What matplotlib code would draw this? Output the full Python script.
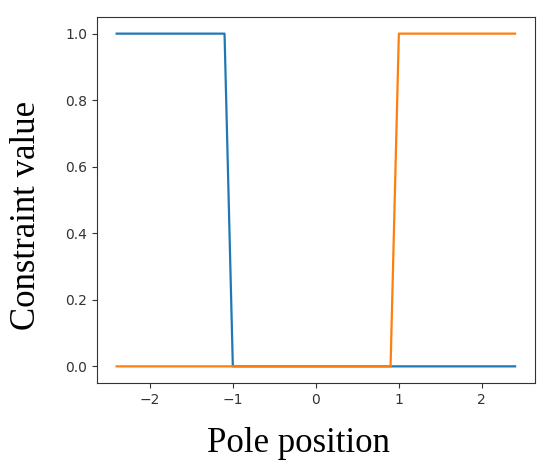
import matplotlib
matplotlib.use("Agg")
import matplotlib.pyplot as plt

# Pole position breakpoints and constraint values
pole_position = [-2.4, -1.1, -1.0, 0.9, 1.0, 2.4]
left_constraint = [1.0, 1.0, 0.0, 0.0, 0.0, 0.0]
right_constraint = [0.0, 0.0, 0.0, 0.0, 1.0, 1.0]
xticks = [-2, -1, 0, 1, 2]
yticks = [0.0, 0.2, 0.4, 0.6, 0.8, 1.0]

fig = plt.figure(figsize=(5.53, 4.70), dpi=100)
ax = fig.add_axes([96.7/553, 1 - 383/470, (535 - 96.7)/553, (383 - 17)/470])
ax.plot(pole_position, left_constraint, color="#1f77b4", lw=1.6)
ax.plot(pole_position, right_constraint, color="#ff7f0e", lw=1.6)
ax.set_xticks(xticks)
ax.set_yticks(yticks)
ax.set_yticklabels([f"{v:.1f}" for v in yticks])
ax.tick_params(labelsize=10, labelcolor="#333333", colors="#333333")
for s in ax.spines.values():
    s.set_color("#333333")

serif = ["Liberation Serif", "DejaVu Serif"]
fig.text(298/553, 1 - 452/470, "Pole position", family=serif, fontsize=25,
         ha="center", va="baseline")
fig.text(35/553, 1 - 215/470, "Constraint value", family=serif, fontsize=25,
         ha="center", va="baseline", rotation=90, rotation_mode="anchor")

fig.savefig("out.png", dpi=100)
